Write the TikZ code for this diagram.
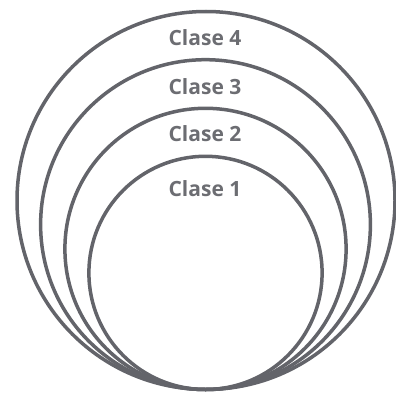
\documentclass[tikz,border=0pt]{standalone}
\usepackage{fontspec}
\setmainfont{Open Sans}
\usepackage{xcolor}
\definecolor{ring}{RGB}{99,100,106}
\definecolor{lbl}{RGB}{108,109,114}
\usetikzlibrary{positioning, calc}
\tikzstyle{ring} = [draw=ring, circle, line width=3.5pt, inner sep=0pt, outer sep=0pt]
\tikzstyle{label} = [text=lbl, font=\fontsize{21}{21}\selectfont\bfseries, inner sep=0pt, anchor=base]

\begin{document}
\begin{tikzpicture}[x=1pt, y=-1pt]
    \useasboundingbox (0,0) rectangle (396,393);

    % rings, all touching at the bottom
    \node[ring, minimum size=378pt] (c4) at (206,200.5) {};
    \node[ring, minimum size=329.8pt] (c3) at (205.5,224.6) {};
    \node[ring, minimum size=281.2pt] (c2) at (205.5,248.9) {};
    \node[ring, minimum size=233.2pt] (c1) at (205.5,272.9) {};

    % labels, just below the top of each ring
    \node[label] (l4) at (205,46) {Clase 4};
    \node[label] (l3) at (205,94.3) {Clase 3};
    \node[label] (l2) at (205,142) {Clase 2};
    \node[label] (l1) at (205,196) {Clase 1};
\end{tikzpicture}
\end{document}
